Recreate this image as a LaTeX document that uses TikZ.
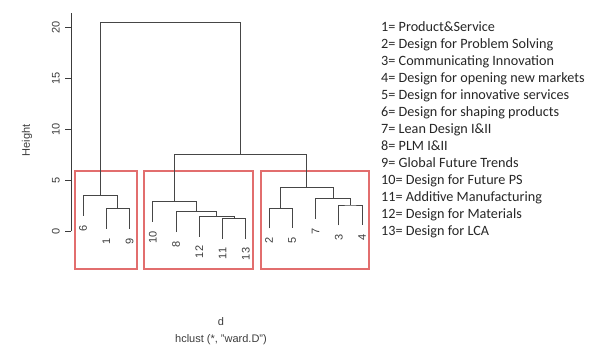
\documentclass[tikz,border=0pt]{standalone}
\usepackage{fontspec}
\setmainfont{Liberation Sans}
\newfontfamily\legendfont{Carlito}
\usepackage{tikz}
\usetikzlibrary{positioning}

\definecolor{treegray}{RGB}{70,70,70}
\definecolor{boxred}{RGB}{226,110,110}
\definecolor{axisgray}{RGB}{60,60,60}

\begin{document}
\begin{tikzpicture}[x=1pt, y=-1pt,
  branch/.style = {color=treegray, line width=0.9pt},
  leaf/.style = {rotate=90, anchor=east, inner sep=0pt, font=\fontsize{11}{13}\selectfont, color=axisgray},
  clusterbox/.style = {draw=boxred, line width=1.05pt},
  axistext/.style = {font=\fontsize{11}{13}\selectfont, color=axisgray},
  legend/.style = {anchor=base west, inner sep=0pt, font=\legendfont\fontsize{14.2}{17}\selectfont, color=black!85}]
\useasboundingbox (0,0) rectangle (598,345);

% rect.hclust boxes
\draw[clusterbox] (75,171) rectangle (137,269);
\draw[clusterbox] (144,171) rectangle (253,269);
\draw[clusterbox] (261,171) rectangle (369,269);

% dendrogram, y = height
\begin{scope}[shift={(0,231)}, y=10.2pt]
% y axis
\draw[axisgray, line width=0.7pt] (71,0) -- (71,21.4);
\foreach \h in {0,5,...,20}
  \draw[axisgray, line width=0.7pt] (71,\h) -- (65,\h) node[axistext, rotate=90, anchor=south, inner sep=5pt] (tick\h) {\h};
\node[axistext, rotate=90] (ylab) at (27,8.9) {Height};

% leaf ends
\coordinate (c6) at (83,1.5);
\coordinate (c1) at (106.25,0.2);
\coordinate (c9) at (129.5,0.2);
\coordinate (c10) at (152.75,0.9);
\coordinate (c8) at (176,-0.1);
\coordinate (c12) at (199.25,-0.55);
\coordinate (c11) at (222.5,-0.75);
\coordinate (c13) at (245.75,-0.75);
\coordinate (c2) at (269,0.25);
\coordinate (c5) at (292.25,0.25);
\coordinate (c7) at (315.5,1.2);
\coordinate (c3) at (338.75,0.55);
\coordinate (c4) at (362,0.55);

% merges
\coordinate (m19) at (117.9,2.2);
\coordinate (m6) at (100.4,3.5);
\coordinate (m1113) at (234.1,1.25);
\coordinate (m12) at (216.7,1.45);
\coordinate (m8) at (196.3,1.9);
\coordinate (m10) at (174.5,2.9);
\coordinate (m25) at (280.6,2.25);
\coordinate (m34) at (350.4,2.55);
\coordinate (m7) at (333,3.2);
\coordinate (m2) at (306.8,4.3);
\coordinate (mmid) at (240.6,7.5);
\coordinate (mtop) at (170.5,20.4);

\draw[branch] (c1) |- (m19) -| (c9);
\draw[branch] (c6) |- (m6) -| (m19);
\draw[branch] (c11) |- (m1113) -| (c13);
\draw[branch] (c12) |- (m12) -| (m1113);
\draw[branch] (c8) |- (m8) -| (m12);
\draw[branch] (c10) |- (m10) -| (m8);
\draw[branch] (c2) |- (m25) -| (c5);
\draw[branch] (c3) |- (m34) -| (c4);
\draw[branch] (c7) |- (m7) -| (m34);
\draw[branch] (m25) |- (m2) -| (m7);
\draw[branch] (m10) |- (mmid) -| (m2);
\draw[branch] (m6) |- (mtop) -| (mmid);

% leaf labels
\foreach \n in {6,1,9,10,8,12,11,13,2,5,7,3,4}
  \node[leaf] (t\n) at ([yshift=-9pt]c\n) {\n};
\end{scope}

% axis title
\node[axistext] (xlab) at (221,322) {d};
\node[axistext, below=1pt of xlab] (sub) {hclust (*, "ward.D")};

% legend
\foreach \k/\txt in {1/Product\&Service, 2/Design for Problem Solving,
  3/Communicating Innovation, 4/Design for opening new markets,
  5/Design for innovative services, 6/Design for shaping products,
  7/Lean Design I\&II, 8/PLM I\&II, 9/Global Future Trends,
  10/Design for Future PS, 11/Additive Manufacturing,
  12/Design for Materials, 13/Design for LCA}
  \node[legend] (key\k) at (381,{31.7+17*(\k-1)}) {\k= \txt};
\end{tikzpicture}
\end{document}
